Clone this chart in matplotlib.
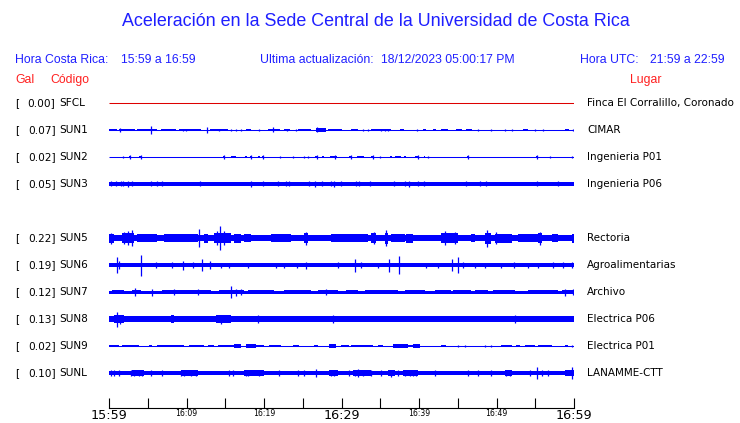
import matplotlib
matplotlib.use("Agg")
import matplotlib.pyplot as plt

# ---------------- data ----------------
codes = ["SFCL", "SUN1", "SUN2", "SUN3", "SUN5", "SUN6", "SUN7", "SUN8", "SUN9", "SUNL"]
gal = [0.00, 0.07, 0.02, 0.05, 0.22, 0.19, 0.12, 0.13, 0.02, 0.10]
places = ["Finca El Corralillo, Coronado", "CIMAR", "Ingenieria P01", "Ingenieria P06",
          "Rectoria", "Agroalimentarias", "Archivo", "Electrica P06", "Electrica P01",
          "LANAMME-CTT"]
rows = [0, 1, 2, 3, 5, 6, 7, 8, 9, 10]
trace_colors = ["#dd0000"] + ["#0000ff"] * 9

# half-amplitude of the background noise of each trace (px)
base_amp = [0.5, 0.5, 0.5, 1.7, 3.0, 1.7, 1.5, 2.9, 0.5, 2.0]

# bursts: (start minute, end minute, half-amplitude px)
sun1_blocks = [(0, 1.08, 1.4), (1.3, 3.4, 1.1), (3.66, 6.25, 1.4), (6.7, 8.6, 1.4), (9.05, 11.85, 1.2),
               (13.06, 15.3, 1.2), (17.67, 18.3, 1.0), (20.5, 22.0, 1.4), (22.6, 23.3, 1.0),
               (24.35, 26.1, 1.2), (26.7, 28.0, 1.7), (28.2, 30.0, 1.1), (31.2, 32.1, 1.2),
               (33.8, 36.4, 1.1), (37.5, 38.1, 1.0), (40.5, 40.9, 1.2), (41.8, 42.2, 1.2),
               (42.9, 43.7, 1.4), (44.8, 45.5, 1.0), (46.1, 46.8, 1.0), (53.4, 54.1, 1.2),
               (58.8, 59.3, 1.2)]
sun1_spikes = [(1.4, 2.0), (5.39, 4.3), (12.6, 3.0), (21.1, 2.5), (26.9, 2.5), (9.5, 1.2), (9.9, 1.2),
               (14.2, 1.2), (15.7, 1.2), (16.4, 1.2), (17.0, 1.2), (19.4, 1.2), (23.0, 1.2),
               (24.1, 1.2), (32.8, 1.2), (33.4, 1.2), (35.1, 1.2), (35.6, 1.2), (36.0, 1.2),
               (39.7, 1.2), (47.6, 1.2), (49.3, 1.2), (51.1, 1.2), (52.0, 1.2), (55.0, 1.2),
               (56.0, 1.2), (59.9, 1.2)]

sun2_blocks = [(2.59, 2.80, 1.3), (3.88, 4.18, 1.3), (14.65, 14.96, 1.3), (15.73, 16.38, 1.3),
               (17.54, 17.80, 1.3), (18.19, 18.49, 1.3), (19.27, 19.48, 1.3), (19.70, 20.04, 1.3),
               (26.64, 26.94, 1.3), (27.45, 27.71, 1.3), (28.58, 29.39, 1.3), (31.03, 31.33, 1.3),
               (32.02, 32.89, 1.3), (33.83, 34.09, 1.3), (36.29, 36.55, 1.3), (36.85, 37.71, 1.3),
               (38.01, 38.27, 1.3), (39.44, 39.95, 1.3), (40.64, 40.82, 1.3), (46.25, 46.38, 1.3),
               (55.08, 55.21, 1.3)]
sun2_spikes = [(2.7, 1.8), (4.1, 1.8), (14.9, 1.8), (18.3, 1.8), (19.9, 1.8), (26.9, 1.8),
               (29.1, 1.8), (31.2, 1.8), (34.0, 1.8), (39.9, 1.8), (46.3, 1.8), (55.2, 1.8),
               (1.85, 1.2), (22.0, 1.2), (23.8, 1.2), (25.1, 1.2), (25.7, 1.2), (35.0, 1.2),
               (41.2, 1.2), (56.9, 1.2), (59.7, 1.2)]

sun3_blocks = []
sun3_spikes = [(0.30, 2.5), (0.86, 2.5), (1.59, 2.5), (1.85, 2.5), (2.50, 3.0), (3.02, 2.5),
               (5.39, 2.5), (6.25, 2.5), (6.90, 2.5), (11.72, 2.5), (18.32, 3.0), (19.91, 2.5),
               (21.77, 2.5), (22.84, 2.5), (23.19, 2.5), (25.86, 2.5), (26.64, 2.8), (27.45, 2.5),
               (28.66, 2.5), (29.09, 3.0), (29.95, 2.5), (31.89, 2.5), (32.24, 2.5), (33.70, 2.5),
               (36.76, 2.5), (38.23, 2.5), (38.66, 3.0), (39.87, 2.5), (40.64, 2.5), (46.12, 2.5),
               (47.93, 2.5), (48.62, 2.5), (55.17, 2.5), (57.97, 2.5)]

sun5_blocks = [(0, 0.65, 4.5), (1.72, 3.23, 5), (3.66, 6.25, 3.6), (7.11, 11.42, 3.6), (12.28, 12.71, 4.5),
               (13.58, 15.73, 5), (16.16, 17.02, 4.5), (17.46, 18.32, 3.6), (19.18, 20.47, 3.4),
               (20.9, 23.49, 3.6), (25.21, 25.64, 5), (28.66, 33.40, 3.6), (33.83, 34.48, 5),
               (35.56, 35.99, 5.5), (36.42, 38.14, 3.6), (38.36, 39.22, 4.5), (40.73, 42.45, 3.4),
               (42.88, 45.04, 5), (46.76, 47.19, 3.6), (48.49, 49.35, 5.5), (49.78, 51.94, 4.5),
               (52.8, 55.38, 3.6), (55.38, 55.81, 5), (57.1, 57.97, 3.6), (59.69, 60, 4.5)]
sun5_spikes = [(3.02, 8), (11.64, 9), (14.35, 12), (14.9, 7), (25.4, 6.5), (35.8, 8), (43.3, 7),
               (48.8, 8.5), (2.4, 7), (0.2, 5.5), (55.6, 6.5), (1.9, 6), (13.9, 7), (34.2, 6),
               (44.6, 6), (49.9, 6)]

sun6_blocks = []
sun6_spikes = [(0.99, 8), (1.29, 4), (4.18, 10.5), (6.03, 3), (8.19, 3), (9.61, 4.5), (10.90, 3),
               (11.98, 6), (13.06, 4), (14.44, 2.5), (15.52, 2.5), (17.89, 2.5), (21.55, 2.5),
               (22.63, 2.5), (24.27, 2.5), (25.43, 3.5), (29.52, 3), (31.76, 6.5), (32.54, 3),
               (34.70, 2.5), (36.07, 6.5), (37.41, 9), (40.95, 2.5), (42.45, 2.5), (44.31, 6),
               (45.04, 8), (45.69, 3), (47.19, 2.5), (48.49, 2.5), (50.56, 2.5), (52.28, 3),
               (54.09, 2.5), (55.38, 2.5), (57.32, 3), (58.62, 3), (59.69, 3)]

sun7_blocks = [(0.43, 1.94, 2.2), (3.02, 4.09, 2.2), (6.90, 13.15, 2.2), (14.22, 17.46, 2.2),
               (17.89, 21.33, 2.2), (22.63, 26.08, 2.2), (26.94, 29.52, 2.2), (30.60, 32.11, 2.2),
               (32.97, 37.28, 2.2), (38.14, 40.73, 2.2), (42.02, 44.18, 2.2), (44.39, 46.76, 2.2),
               (47.19, 48.92, 2.2), (49.57, 52.37, 2.2), (54.09, 57.97, 2.2), (58.40, 60, 2.2)]
sun7_spikes = [(3.36, 4.3), (5.60, 3.5), (8.40, 3), (11.42, 3), (15.73, 6), (16.38, 3.5),
               (17.02, 3), (28.0, 3), (58.83, 3.5), (59.9, 3)]

sun8_blocks = [(0.65, 1.94, 3.8), (2.5, 4.0, 3.3), (5.0, 7.5, 3.3), (7.97, 8.40, 3.6), (9.0, 12.5, 3.3),
               (13.79, 15.73, 3.7), (16.5, 22.0, 3.3), (23.0, 27.0, 3.3), (28.5, 30.0, 3.4),
               (31.0, 36.0, 3.3), (37.0, 43.0, 3.3), (44.0, 52.0, 3.3), (52.2, 56.0, 3.3),
               (57.0, 60.0, 3.3)]
sun8_spikes = [(0.99, 7.5), (19.18, 3.8), (28.88, 4), (52.37, 4), (14.4, 4.5), (1.4, 4.5)]

sun9_blocks = [(0, 1.29, 1.3), (1.72, 3.88, 1.3), (5.17, 5.60, 1.3), (6.25, 9.70, 1.3),
               (10.34, 12.28, 1.3), (12.71, 13.58, 1.3), (14.01, 16.16, 1.3), (16.16, 17.02, 1.7),
               (17.67, 18.96, 1.7), (18.96, 20.04, 1.3), (20.69, 22.20, 1.3), (23.71, 24.57, 1.3),
               (26.51, 26.94, 1.3), (28.45, 29.31, 1.7), (29.95, 31.03, 1.3), (31.25, 34.05, 1.3),
               (34.70, 35.34, 1.3), (36.64, 38.57, 1.7), (38.57, 39.22, 1.3), (39.22, 40.08, 1.7),
               (42.88, 43.53, 1.3), (50.64, 51.94, 1.3), (52.58, 53.01, 1.3), (53.66, 54.95, 1.3),
               (55.38, 57.11, 1.3), (58.83, 59.26, 1.3)]
sun9_spikes = [(45.0, 1.3), (45.9, 1.3), (48.5, 1.3), (49.3, 1.3), (59.8, 1.3)]

sunl_blocks = [(3.02, 4.53, 2.7), (9.27, 11.42, 2.7), (17.46, 20.04, 2.7), (28.45, 29.52, 2.7),
               (31.46, 33.83, 2.7), (36.0, 36.85, 2.7), (37.93, 39.87, 2.7), (51.07, 51.94, 2.7),
               (58.83, 60, 3.3)]
sunl_spikes = [(0.22, 3), (0.65, 3), (1.29, 3), (2.80, 3), (3.23, 3), (3.88, 3), (4.31, 3), (5.39, 3),
               (6.90, 3), (9.27, 3), (9.70, 3), (10.56, 3), (11.21, 3), (15.52, 3), (15.95, 3),
               (17.67, 3), (17.89, 3), (19.40, 3.3), (21.98, 3), (24.35, 3), (25.21, 3), (26.72, 4),
               (28.66, 3), (29.09, 3), (31.03, 3), (31.68, 3), (32.11, 4), (32.76, 3), (33.83, 3),
               (35.13, 3), (36.42, 3.5), (37.28, 3), (38.14, 3), (38.79, 3), (39.22, 3), (39.65, 3),
               (42.02, 3), (46.33, 3), (47.63, 3), (49.35, 3), (51.29, 3), (51.72, 3), (54.31, 3),
               (55.17, 6), (55.81, 3), (56.68, 3), (59.69, 6)]

all_blocks = [[], sun1_blocks, sun2_blocks, sun3_blocks, sun5_blocks, sun6_blocks, sun7_blocks,
              sun8_blocks, sun9_blocks, sunl_blocks]
all_spikes = [[], sun1_spikes, sun2_spikes, sun3_spikes, sun5_spikes, sun6_spikes, sun7_spikes,
              sun8_spikes, sun9_spikes, sunl_spikes]

tick_minutes = list(range(0, 61, 5))
tick_labels = ["15:59", "", "16:09", "", "16:19", "", "16:29", "", "16:39", "", "16:49", "", "16:59"]
big_ticks = ["15:59", "16:29", "16:59"]

# ---------------- figure ----------------
W, H = 740, 423
fig = plt.figure(figsize=(W / 100, H / 100), dpi=100)
fig.patch.set_facecolor("white")


def fx(x):
    return x / W


def fy(y):
    return 1 - y / H


ax_left, ax_right, ax_top, ax_bot = 109, 574, 92, 408
ax = fig.add_axes([fx(ax_left), fy(ax_bot), (ax_right - ax_left) / W, (ax_bot - ax_top) / H])
ax.set_xlim(0, 60)
ax.set_ylim(ax_bot, ax_top)  # one data unit = one pixel row
for s in ["top", "left", "right"]:
    ax.spines[s].set_visible(False)
ax.spines["bottom"].set_linewidth(0.8)
ax.set_yticks([])
ax.set_xticks(tick_minutes)
ax.set_xticklabels(tick_labels, family="DejaVu Sans")
ax.tick_params(axis="x", direction="in", length=7, width=0.8, pad=1)
for lab in ax.get_xticklabels():
    lab.set_fontsize(9.2 if lab.get_text() in big_ticks else 5.6)

for i, code in enumerate(codes):
    yc = 103 + 27 * rows[i]
    col = trace_colors[i]
    h = base_amp[i]
    if h <= 0.6:
        ax.hlines(yc, 0, 60, color=col, lw=0.75)
    else:
        ax.fill_between([0, 60], yc - h, yc + h, color=col, lw=0)
    for a, b, hh in all_blocks[i]:
        ax.fill_between([a, b], yc - hh, yc + hh, color=col, lw=0)
    sp = all_spikes[i]
    if sp:
        ax.vlines([t for t, _ in sp], [yc - hh for _, hh in sp], [yc + hh for _, hh in sp],
                  color=col, lw=0.9)

    # left labels
    fig.text(fx(15), fy(yc), "[", fontsize=7.6, family="DejaVu Sans", va="center", ha="left")
    fig.text(fx(55.5), fy(yc), f"{gal[i]:.2f}]", fontsize=7.6, family="DejaVu Sans",
             va="center", ha="right")
    fig.text(fx(59), fy(yc), code, fontsize=7.6, family="DejaVu Sans", va="center", ha="left")
    fig.text(fx(587), fy(yc), places[i], fontsize=7.5, family="DejaVu Sans", va="center", ha="left")

hdr_blue = "#1f1fff"
sans = "Liberation Sans"
fig.text(fx(375.5), fy(22), "Aceleración en la Sede Central de la Universidad de Costa Rica",
         fontsize=12.9, family=sans, color=hdr_blue, ha="center", va="center")
fig.text(fx(15), fy(60), "Hora Costa Rica:", fontsize=8.8, family=sans, color=hdr_blue, va="center")
fig.text(fx(121), fy(60), "15:59 a 16:59", fontsize=8.8, family=sans, color=hdr_blue, va="center")
fig.text(fx(260), fy(60), "Ultima actualización:", fontsize=8.8, family=sans, color=hdr_blue, va="center")
fig.text(fx(381), fy(60), "18/12/2023 05:00:17 PM", fontsize=8.8, family=sans, color=hdr_blue, va="center")
fig.text(fx(580), fy(60), "Hora UTC:", fontsize=8.8, family=sans, color=hdr_blue, va="center")
fig.text(fx(650), fy(60), "21:59 a 22:59", fontsize=8.8, family=sans, color=hdr_blue, va="center")
red = "#ff1f1f"
fig.text(fx(15), fy(80), "Gal", fontsize=8.8, family=sans, color=red, va="center")
fig.text(fx(50), fy(80), "Código", fontsize=8.8, family=sans, color=red, va="center")
fig.text(fx(630), fy(80), "Lugar", fontsize=8.8, family=sans, color=red, va="center")

fig.savefig("out.png", dpi=100)
